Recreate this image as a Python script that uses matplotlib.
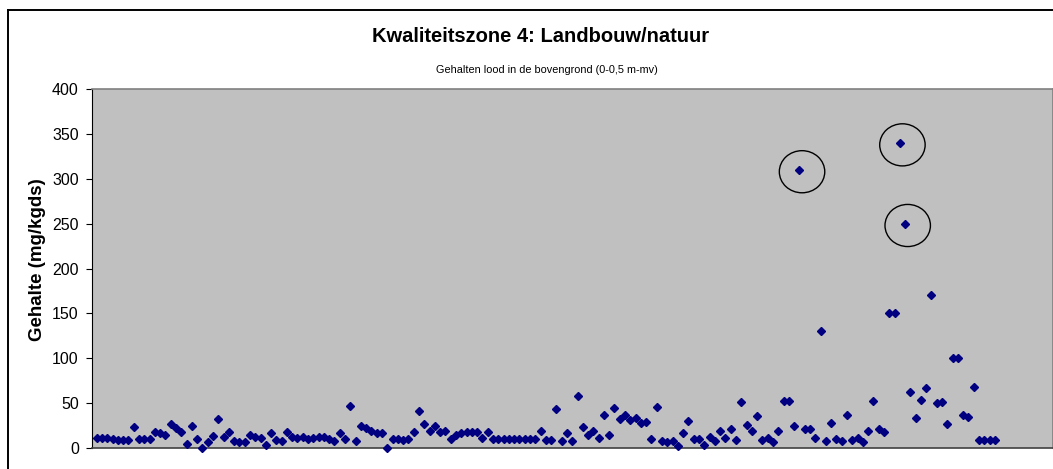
import matplotlib
matplotlib.use("Agg")
import matplotlib.pyplot as plt
import numpy as np
from matplotlib.lines import Line2D
from matplotlib.patches import Ellipse

plt.rcParams["font.family"] = ["Liberation Sans", "DejaVu Sans"]

TITLE = "Kwaliteitszone 4: Landbouw/natuur"
SUBTITLE = "Gehalten lood in de bovengrond (0-0,5 m-mv)"
Y_LABEL = "Gehalte (mg/kgds)"

# lead content per sample, left to right
lood = [
    11, 11, 11, 10, 9, 9, 9, 23, 10, 10, 10, 17, 16, 14, 26, 22, 18, 4, 24, 10,
    0, 6, 13, 32, 12, 17, 7, 6, 6, 14, 12, 11, 3, 16,
    9, 7, 18, 12, 11, 12, 10, 11, 12, 12, 10, 7, 16, 10, 46, 7, 24, 22, 19, 16,
    16, 0, 10, 10, 9, 10, 18, 41, 26, 19, 24, 17, 19, 10, 14, 16,
    17, 18, 18, 11, 18, 10, 10, 10, 10, 10, 10, 10, 10, 10, 19, 9, 9, 43, 7, 16,
    7, 58, 23, 14, 19, 11, 37, 14, 44, 32, 37, 31, 33, 28, 29,
    10, 45, 7, 6, 7, 2, 16, 30, 10, 10, 3, 12, 7, 19, 11, 21, 9, 51, 25, 19,
    35, 9, 11, 6, 19, 52, 52, 24, 310, 21, 21, 11, 130, 7, 28, 10, 7, 36, 9, 11,
    6, 19, 52, 21, 18, 150, 150, 340, 250, 62, 33, 53, 67, 170, 50, 51, 26, 100, 100, 37,
    34, 68, 9, 9, 9, 9,
]
# samples marked with a circle (1-based sample number)
omcirkeld = [134, 153, 154]

y_ticks = [0, 50, 100, 150, 200, 250, 300, 350, 400]

W, H = 1053, 469
AX_L, AX_B, AX_T = 91.7, 447.7, 89.3
fig = plt.figure(figsize=(W / 100, H / 100), dpi=100)
ax = fig.add_axes([AX_L / W, (H - AX_B) / H, 1 - AX_L / W, (AX_B - AX_T) / H])
ax.set_facecolor("#c0c0c0")

x = np.arange(1, len(lood) + 1)
ax.plot(x, lood, linestyle="none", marker="D", markersize=4.3,
        color="#000080", clip_on=False, zorder=3)

for n in omcirkeld:
    ax.add_patch(Ellipse((n + 0.5, lood[n - 1] - 2), width=8.6, height=47,
                         fill=False, edgecolor="black", linewidth=1.0, zorder=4))

ax.set_xlim(0.05, 182)
ax.set_ylim(0, 400)
ax.set_xticks([])
ax.set_yticks(y_ticks)
ax.tick_params(axis="y", direction="out", length=4.3, width=0.8, pad=5, labelsize=11.5)
ax.set_ylabel(Y_LABEL, fontsize=13.5, fontweight="bold")
ax.yaxis.set_label_coords(-(AX_L - 46) / (W - AX_L), (AX_B - 260) / (AX_B - AX_T))

for side in ["top", "right"]:
    ax.spines[side].set_color("#808080")
    ax.spines[side].set_linewidth(1.2)
ax.spines["left"].set_color("black")
ax.spines["left"].set_linewidth(0.8)
ax.spines["bottom"].set_color("#404040")
ax.spines["bottom"].set_linewidth(1.2)

# chart frame (cut off at right and bottom)
fig.add_artist(Line2D([8 / W, 8 / W], [0, (H - 10) / H], transform=fig.transFigure,
                      color="black", linewidth=1.4))
fig.add_artist(Line2D([8 / W, 1], [(H - 10) / H, (H - 10) / H], transform=fig.transFigure,
                      color="black", linewidth=1.4))

fig.text(541 / W, 1 - 37 / H, TITLE, ha="center", va="center",
         fontsize=14.5, fontweight="bold")
fig.text(547 / W, 1 - 70 / H, SUBTITLE, ha="center", va="center", fontsize=7.8)

fig.savefig("out.png", dpi=100)
